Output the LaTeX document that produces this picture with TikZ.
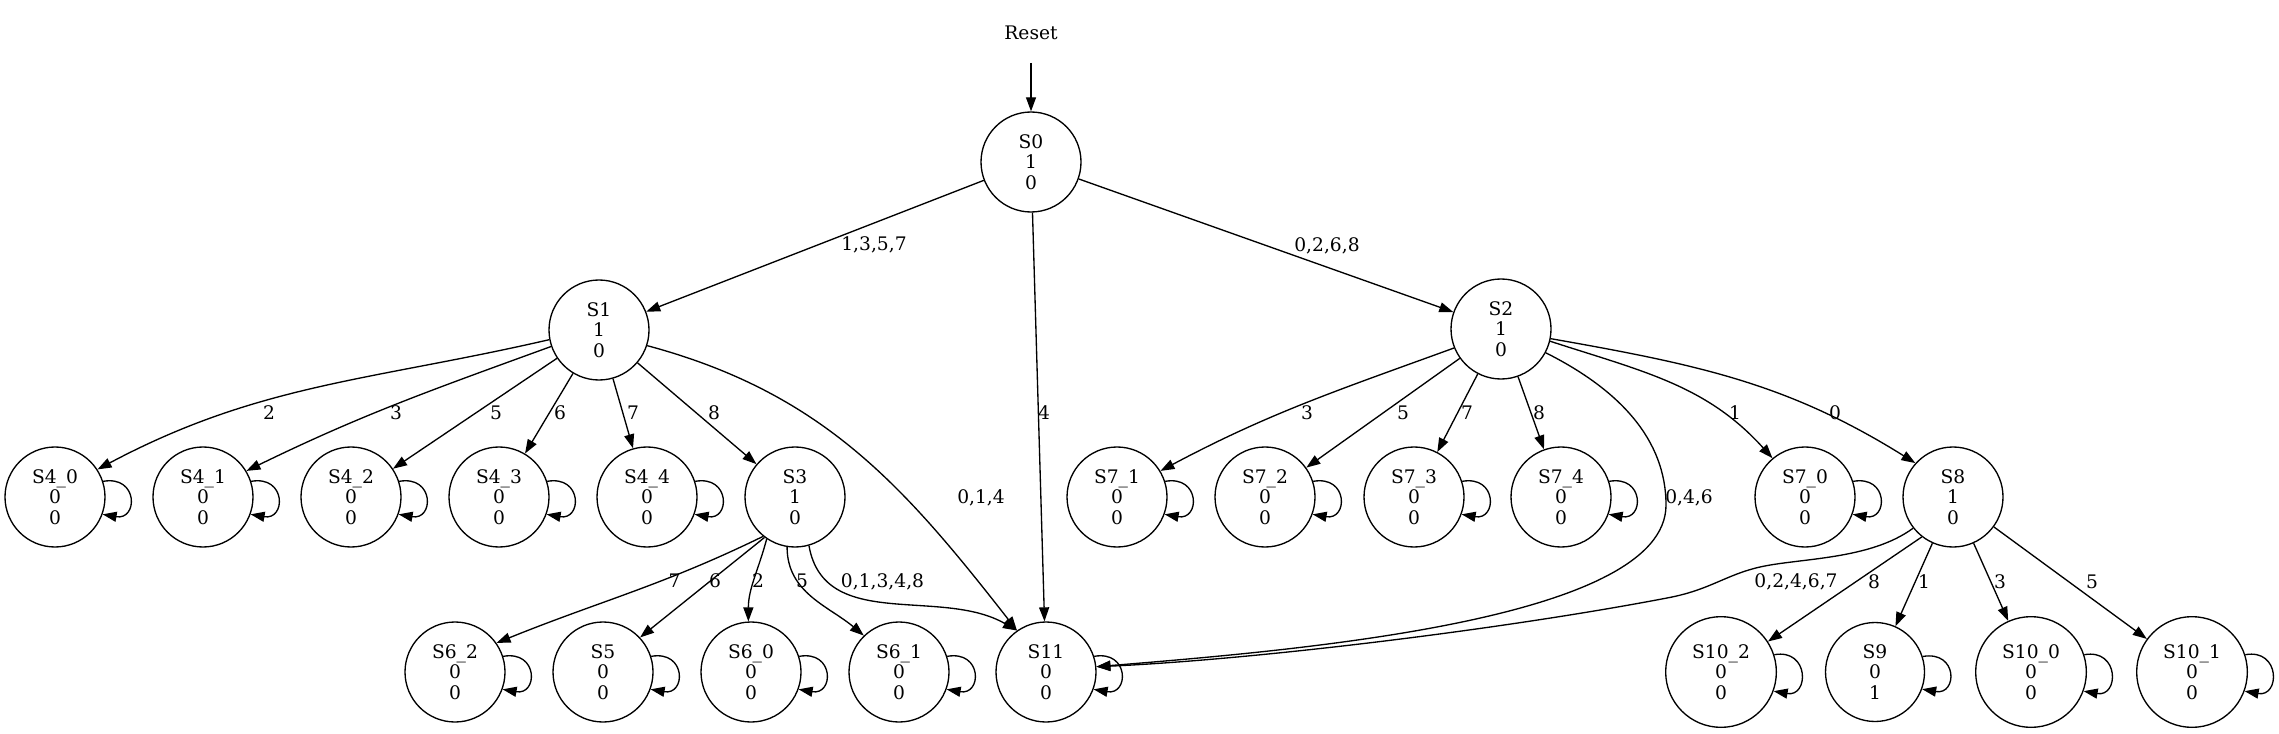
\documentclass[tikz,border=0pt]{standalone}
\usepackage{fontspec}
\setmainfont{DejaVu Serif}
\usetikzlibrary{arrows.meta}
\begin{document}
\begin{tikzpicture}[x=0.75pt,y=0.75pt,
  st/.style={draw, circle, line width=1pt, minimum size=75pt, inner sep=0pt, align=center,
    font=\fontsize{14pt}{15.3pt}\selectfont},
  stw/.style={st, minimum size=83pt},
  sts/.style={st, minimum size=74.25pt},
  arr/.style={line width=1pt, -{Triangle[length=10.5pt,width=7.5pt]}},
  lbl/.style={inner sep=0pt, text height=10.2pt, text depth=0pt, font=\fontsize{14pt}{15.3pt}\selectfont},
]
\useasboundingbox (0,0) rectangle (2279,-734);
% nodes
\node[inner sep=0pt, inner ysep=17pt, font=\fontsize{14pt}{15.3pt}\selectfont] (reset) at (1031,-33) {Reset};
\node[st] (s0) at (1031,-162) {S0\\1\\0};
\node[st] (s1) at (599,-330) {S1\\1\\0};
\node[st] (s2) at (1501,-329) {S2\\1\\0};
\node[st] (s40) at (55,-497) {S4\_0\\0\\0};
\node[st] (s41) at (203,-497) {S4\_1\\0\\0};
\node[st] (s42) at (351,-497) {S4\_2\\0\\0};
\node[st] (s43) at (499,-497) {S4\_3\\0\\0};
\node[st] (s44) at (647,-497) {S4\_4\\0\\0};
\node[st] (s3) at (795,-497) {S3\\1\\0};
\node[st] (s71) at (1117,-497) {S7\_1\\0\\0};
\node[st] (s72) at (1265,-497) {S7\_2\\0\\0};
\node[st] (s73) at (1414,-497) {S7\_3\\0\\0};
\node[st] (s74) at (1561,-497) {S7\_4\\0\\0};
\node[st] (s70) at (1805,-497) {S7\_0\\0\\0};
\node[st] (s8) at (1953,-497) {S8\\1\\0};
\node[st] (s62) at (455,-672) {S6\_2\\0\\0};
\node[st] (s5) at (603,-672) {S5\\0\\0};
\node[st] (s60) at (751,-672) {S6\_0\\0\\0};
\node[st] (s61) at (899,-672) {S6\_1\\0\\0};
\node[st] (s11) at (1046,-672) {S11\\0\\0};
\node[stw] (s102) at (1721,-672) {S10\_2\\0\\0};
\node[sts] (s9) at (1875,-672) {S9\\0\\1};
\node[stw] (s100) at (2031,-672) {S10\_0\\0\\0};
\node[stw] (s101) at (2192,-672) {S10\_1\\0\\0};
% edges from reset and S0
\draw[arr] (reset) -- (s0);
\draw[arr] (s0) -- (s1);
\draw[arr] (s0) -- (s2);
\draw[arr] (s0) -- (s11);
% S1
\draw[arr] (s1.191) to[out=193,in=28] (s40.33);
\draw[arr] (s1.199) to[out=200,in=26] (s41.31);
\draw[arr] (s1) -- (s42);
\draw[arr] (s1) -- (s43);
\draw[arr] (s1) -- (s44);
\draw[arr] (s1) -- (s3);
\draw[arr] (s1.-18) to[out=-15,in=128] (s11.125);
% S3
\draw[arr] (s3.231) to[out=206,in=22] (s62.35);
\draw[arr] (s3.233) -- (s5.43);
\draw[arr] (s3.236) to[out=255,in=90] (s60.93);
\draw[arr] (s3.261) to[out=270,in=140] (s61.134);
\draw[arr] (s3.286) to[out=-80,in=150] (s11.125);
% S2
\draw[arr] (s2.202) to[out=200,in=28] (s71.31);
\draw[arr] (s2) -- (s72);
\draw[arr] (s2) -- (s73);
\draw[arr] (s2) -- (s74);
\draw[arr] (s2.-28) .. controls (1620,-390) and (1666,-440) .. (1666,-505)
  .. controls (1666,-620) and (1300,-650) .. (s11.6);
\draw[arr] (s2.-14) to[out=-18,in=132] (s70.130);
\draw[arr] (s2.-11.5) to[out=-10,in=148] (s8.138);
% S8
\draw[arr] (s8.218) .. controls (1870,-560) and (1800,-558) .. (1760,-567)
  .. controls (1725,-575) and (1710,-590) .. (1667,-598)
  .. controls (1500,-630) and (1250,-660) .. (s11.6);
\draw[arr] (s8.232) -- (s102.33);
\draw[arr] (s8) -- (s9);
\draw[arr] (s8) -- (s100);
\draw[arr] (s8) -- (s101);
% self loops
\foreach \n in {s40,s41,s42,s43,s44,s71,s72,s73,s74,s70,s62,s5,s60,s61,s11,s102,s9,s100,s101}{
  \draw[arr] (\n.18) .. controls +(10:36) and +(-10:36) .. (\n.-20);
}
% labels
\node[lbl] (l1357) at (874,-244) {1,3,5,7};
\node[lbl] (l0268) at (1327,-245) {0,2,6,8};
\node[lbl] (l4) at (1044,-413) {4};
\node[lbl] (la2) at (269,-413) {2};
\node[lbl] (la3) at (396,-413) {3};
\node[lbl] (la5) at (496,-413) {5};
\node[lbl] (la6) at (560,-413) {6};
\node[lbl] (la7) at (633,-413) {7};
\node[lbl] (la8) at (714,-413) {8};
\node[lbl] (l014) at (981,-497) {0,1,4};
\node[lbl] (lb7) at (674.5,-581) {7};
\node[lbl] (lb6) at (715,-581) {6};
\node[lbl] (lb2) at (758,-581) {2};
\node[lbl] (lb5) at (802,-581) {5};
\node[lbl] (l01348) at (882.5,-581) {0,1,3,4,8};
\node[lbl] (lc3) at (1307,-413) {3};
\node[lbl] (lc5) at (1403,-413) {5};
\node[lbl] (lc7) at (1467,-413) {7};
\node[lbl] (lc8) at (1539,-413) {8};
\node[lbl] (l046) at (1689,-497) {0,4,6};
\node[lbl] (lc1) at (1735,-413) {1};
\node[lbl] (lc0) at (1835,-413) {0};
\node[lbl] (l02467) at (1796,-581) {0,2,4,6,7};
\node[lbl] (ld8) at (1874,-582) {8};
\node[lbl] (ld1) at (1924,-582) {1};
\node[lbl] (ld3) at (2000,-582) {3};
\node[lbl] (ld5) at (2092,-582) {5};
\end{tikzpicture}
\end{document}
